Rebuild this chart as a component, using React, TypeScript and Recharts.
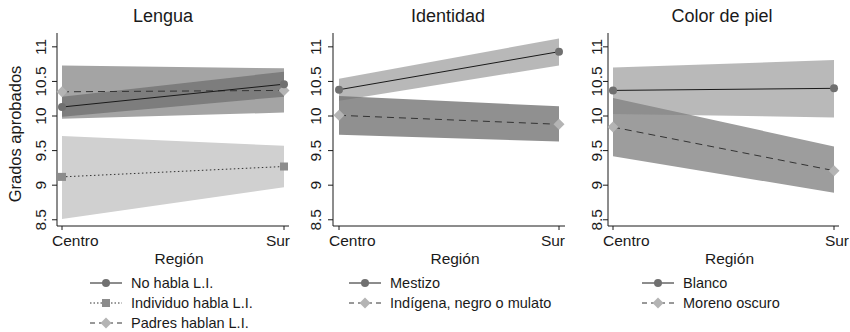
import React from "react";
import { Area, ComposedChart, Line, XAxis, YAxis } from "recharts";

const FONT = "'Liberation Sans', Arial, Helvetica, sans-serif";

const categories = ["Centro", "Sur"];
const yTicks = [8.5, 9, 9.5, 10, 10.5, 11];
const yDomain: [number, number] = [8.41, 11.2];

// Lengua
const noHablaMean = [10.13, 10.46];
const noHablaLo = [9.99, 10.28];
const noHablaHi = [10.28, 10.64];
const individuoMean = [9.12, 9.27];
const individuoLo = [8.51, 8.97];
const individuoHi = [9.71, 9.57];
const padresMean = [10.35, 10.37];
const padresLo = [9.96, 10.05];
const padresHi = [10.73, 10.69];

// Identidad
const mestizoMean = [10.38, 10.93];
const mestizoLo = [10.22, 10.73];
const mestizoHi = [10.54, 11.12];
const indigenaMean = [10.01, 9.88];
const indigenaLo = [9.73, 9.63];
const indigenaHi = [10.29, 10.14];

// Color de piel
const blancoMean = [10.37, 10.4];
const blancoLo = [10.03, 9.98];
const blancoHi = [10.7, 10.81];
const morenoMean = [9.84, 9.21];
const morenoLo = [9.42, 8.89];
const morenoHi = [10.26, 9.56];

type Shape = "circle" | "square" | "diamond";

interface Series {
  name: string;
  mean: number[];
  lo: number[];
  hi: number[];
  dash?: string;
  lineColor: string;
  shape: Shape;
  markerFill: string;
  bandFill: string;
  bandOpacity: number;
}

interface Panel {
  title: string;
  titleX: number;
  left: number;
  width: number;
  yWidth: number;
  right: number;
  pad: number;
  yLabelShift: number;
  surShift: number;
  legendX: number;
  bands: Series[]; // draw order for the shaded CIs
  legend: Series[];
}

const noHabla: Series = {
  name: "No habla L.I.", mean: noHablaMean, lo: noHablaLo, hi: noHablaHi,
  lineColor: "#1a1a1a", shape: "circle", markerFill: "#707070",
  bandFill: "#565656", bandOpacity: 0.5,
};
const individuo: Series = {
  name: "Individuo habla L.I.", mean: individuoMean, lo: individuoLo, hi: individuoHi,
  dash: "1.5 2.5", lineColor: "#333", shape: "square", markerFill: "#8c8c8c",
  bandFill: "#d0d0d0", bandOpacity: 1,
};
const padres: Series = {
  name: "Padres hablan L.I.", mean: padresMean, lo: padresLo, hi: padresHi,
  dash: "7 5", lineColor: "#333", shape: "diamond", markerFill: "#b4b4b4",
  bandFill: "#a4a4a4", bandOpacity: 1,
};
const mestizo: Series = {
  name: "Mestizo", mean: mestizoMean, lo: mestizoLo, hi: mestizoHi,
  lineColor: "#1a1a1a", shape: "circle", markerFill: "#707070",
  bandFill: "#717171", bandOpacity: 0.5,
};
const indigena: Series = {
  name: "Indígena, negro o mulato", mean: indigenaMean, lo: indigenaLo, hi: indigenaHi,
  dash: "7 5", lineColor: "#333", shape: "diamond", markerFill: "#b4b4b4",
  bandFill: "#909090", bandOpacity: 1,
};
const blanco: Series = {
  name: "Blanco", mean: blancoMean, lo: blancoLo, hi: blancoHi,
  lineColor: "#1a1a1a", shape: "circle", markerFill: "#707070",
  bandFill: "#828282", bandOpacity: 0.56,
};
const moreno: Series = {
  name: "Moreno oscuro", mean: morenoMean, lo: morenoLo, hi: morenoHi,
  dash: "7 5", lineColor: "#333", shape: "diamond", markerFill: "#b4b4b4",
  bandFill: "#9d9d9d", bandOpacity: 1,
};

const panels: Panel[] = [
  {
    title: "Lengua", titleX: 163, left: 0, width: 295, yWidth: 57, right: 6, pad: 5,
    yLabelShift: -3.5, surShift: 6, legendX: 90,
    bands: [individuo, padres, noHabla], legend: [noHabla, individuo, padres],
  },
  {
    title: "Identidad", titleX: 448, left: 295, width: 276, yWidth: 38, right: 6, pad: 6,
    yLabelShift: -4.5, surShift: 6, legendX: 349,
    bands: [indigena, mestizo], legend: [mestizo, indigena],
  },
  {
    title: "Color de piel", titleX: 722, left: 570, width: 280, yWidth: 38, right: 11, pad: 5,
    yLabelShift: 1.5, surShift: 15, legendX: 642,
    bands: [moreno, blanco], legend: [blanco, moreno],
  },
];

const PLOT_TOP = 33;
const CHART_H = 270;
const XAXIS_H = 44;

function marker(shape: Shape, fill: string, cx: number, cy: number, key?: string) {
  if (shape === "circle") return <circle key={key} cx={cx} cy={cy} r={4} fill={fill} />;
  if (shape === "square")
    return <rect key={key} x={cx - 4} y={cy - 4} width={8} height={8} fill={fill} />;
  return (
    <polygon
      key={key}
      points={`${cx},${cy - 5.5} ${cx + 5.5},${cy} ${cx},${cy + 5.5} ${cx - 5.5},${cy}`}
      fill={fill}
    />
  );
}

function PanelChart({ p }: { p: Panel }) {
  const data = categories.map((cat, i) => {
    const row: Record<string, unknown> = { cat };
    p.bands.forEach((s, k) => {
      row[`m${k}`] = s.mean[i];
      row[`r${k}`] = [s.lo[i], s.hi[i]];
    });
    return row;
  });

  const XTick = (props: any) => {
    const { x, y, payload } = props;
    const first = payload.value === categories[0];
    return (
      <text
        x={first ? x - 10 : x + p.surShift}
        y={y + 14}
        textAnchor={first ? "start" : "end"}
        fontSize={15.5}
        fontFamily={FONT}
        fill="#1a1a1a"
      >
        {payload.value}
      </text>
    );
  };

  const YTick = (props: any) => {
    const { x, y, payload } = props;
    const bx = x + p.yLabelShift;
    return (
      <text
        x={bx}
        y={y}
        transform={`rotate(-90, ${bx}, ${y})`}
        textAnchor="middle"
        fontSize={15.5}
        fontFamily={FONT}
        fill="#1a1a1a"
      >
        {String(payload.value)}
      </text>
    );
  };

  return (
    <div style={{ position: "absolute", left: p.left, top: 0 }}>
      <ComposedChart
        width={p.width}
        height={CHART_H}
        data={data}
        margin={{ top: PLOT_TOP, right: p.right, bottom: 0, left: 0 }}
      >
        <XAxis
          dataKey="cat"
          type="category"
          scale="point"
          padding={{ left: p.pad, right: p.pad }}
          height={XAXIS_H}
          tickSize={4}
          tickMargin={2}
          tick={<XTick />}
          stroke="#1a1a1a"
          interval={0}
        />
        <XAxis
          xAxisId="top"
          dataKey="cat"
          type="category"
          scale="point"
          orientation="top"
          height={0}
          tick={false}
          tickLine={false}
          stroke="#1a1a1a"
        />
        <YAxis
          type="number"
          domain={yDomain}
          ticks={yTicks}
          width={p.yWidth}
          tickSize={5}
          tickMargin={2}
          tick={<YTick />}
          stroke="#1a1a1a"
          allowDataOverflow
        />
        <YAxis
          yAxisId="right"
          orientation="right"
          type="number"
          domain={yDomain}
          width={0}
          tick={false}
          tickLine={false}
          stroke="#1a1a1a"
          allowDataOverflow
        />
        {p.bands.map((s, k) => (
          <Area
            key={`band-${k}`}
            dataKey={`r${k}`}
            type="linear"
            stroke="none"
            fill={s.bandFill}
            fillOpacity={s.bandOpacity}
            dot={false}
            activeDot={false}
            isAnimationActive={false}
          />
        ))}
        {p.bands.map((s, k) => (
          <Line
            key={`line-${k}`}
            dataKey={`m${k}`}
            type="linear"
            stroke={s.lineColor}
            strokeWidth={1}
            strokeDasharray={s.dash}
            dot={(d: any) => marker(s.shape, s.markerFill, d.cx, d.cy, `dot-${k}-${d.index}`)}
            activeDot={false}
            isAnimationActive={false}
          />
        ))}
      </ComposedChart>
    </div>
  );
}

function Overlay() {
  const rowY = [283, 303, 323];
  return (
    <svg
      width={850}
      height={332}
      style={{ position: "absolute", left: 0, top: 0, pointerEvents: "none" }}
      fontFamily={FONT}
      fill="#1a1a1a"
    >
      {panels.map((p) => {
        const plotL = p.left + p.yWidth;
        const plotR = p.left + p.width - p.right;
        return (
          <g key={p.title}>
            <text x={p.titleX} y={22} fontSize={18} textAnchor="middle">
              {p.title}
            </text>
            <text x={(plotL + plotR) / 2 + 6} y={264} fontSize={15.5} textAnchor="middle">
              Región
            </text>
            {p.legend.map((s, i) => {
              const cy = rowY[i];
              const x0 = p.legendX;
              return (
                <g key={s.name}>
                  <line
                    x1={x0}
                    x2={x0 + 32}
                    y1={cy}
                    y2={cy}
                    stroke={s.lineColor}
                    strokeWidth={1}
                    strokeDasharray={s.dash ? (s.shape === "square" ? "1.5 2" : "5 4") : undefined}
                  />
                  {marker(s.shape, s.markerFill, x0 + 16, cy)}
                  <text x={x0 + 41} y={cy + 5} fontSize={14.5}>
                    {s.name}
                  </text>
                </g>
              );
            })}
          </g>
        );
      })}
      <text
        x={21}
        y={134}
        fontSize={16.5}
        textAnchor="middle"
        transform="rotate(-90, 21, 134)"
      >
        Grados aprobados
      </text>
    </svg>
  );
}

export default function App() {
  return (
    <div
      style={{
        position: "absolute",
        left: 0,
        top: 0,
        width: 850,
        height: 332,
        background: "#fff",
        fontFamily: FONT,
      }}
    >
      {panels.map((p) => (
        <PanelChart key={p.title} p={p} />
      ))}
      <Overlay />
    </div>
  );
}
